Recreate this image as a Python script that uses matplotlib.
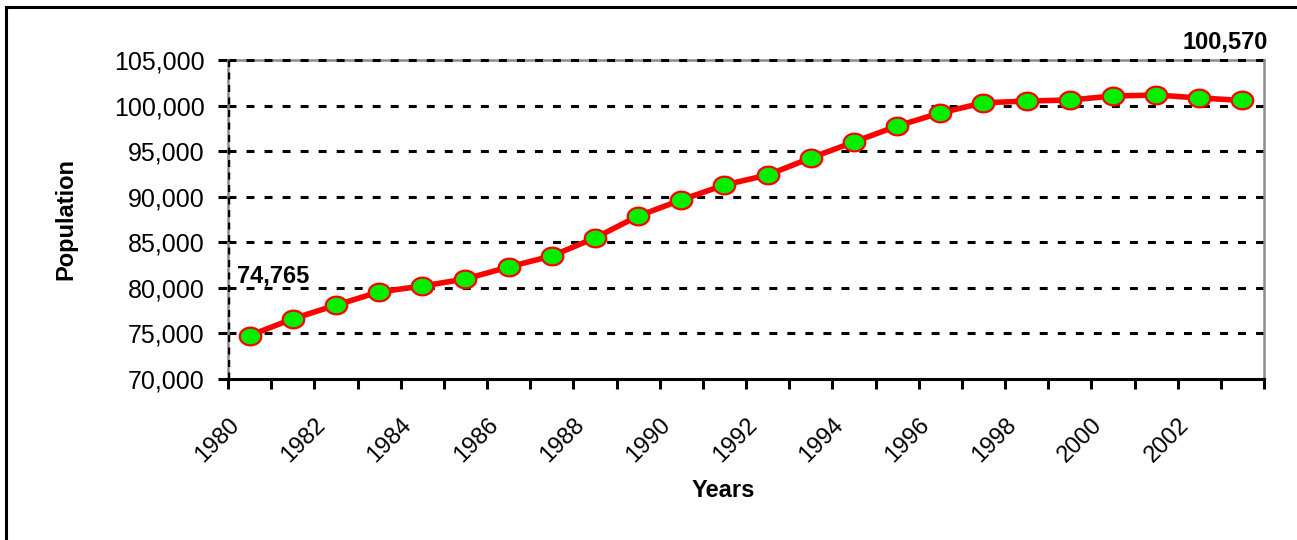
import numpy as np
import matplotlib
matplotlib.use("Agg")
import matplotlib.pyplot as plt
from matplotlib.path import Path
from matplotlib.patches import Rectangle

years = list(range(1980, 2004))
population = [74765, 76600, 78100, 79550, 80200, 80970, 82290, 83500, 85470,
              87880, 89640, 91290, 92380, 94250, 96000, 97760, 99190, 100300,
              100500, 100610, 101050, 101160, 100830, 100570]
y_ticks = [70000, 75000, 80000, 85000, 90000, 95000, 100000, 105000]
first_label = "74,765"
last_label = "100,570"

plt.rcParams['font.family'] = ['Liberation Sans', 'DejaVu Sans']

W, H = 1297, 540
fig = plt.figure(figsize=(W / 100, H / 100), dpi=100)
ax = fig.add_axes([228 / W, 1 - 379 / H, (1264 - 228) / W, (379 - 60) / H])

# frame round the whole chart (only left and top edges visible)
fig.patches.append(Rectangle((6 / W, -0.1), 1.2, 1 - 7 / H + 0.1,
                             transform=fig.transFigure, fill=False,
                             edgecolor='black', linewidth=2.2, zorder=0))

# ellipse marker like the Excel one
t = np.linspace(0, 2 * np.pi, 60)
ellipse = Path(np.column_stack([np.cos(t), 0.82 * np.sin(t)]), closed=True)

x = np.arange(len(years))
ax.plot(x, population, color='#ff0000', linewidth=4.0, marker=ellipse,
        markersize=15.5, markerfacecolor='#00ee00', markeredgecolor='#ff0000',
        markeredgewidth=1.6, zorder=4, clip_on=False)

ax.set_xlim(-0.5, len(years) - 0.5)
ax.set_ylim(70000, 105000)

# gridlines
for v in y_ticks[1:]:
    ax.axhline(v, color='black', linewidth=2.2, linestyle=(0, (2.6, 3.3)),
               zorder=2, clip_on=False)
ax.axvline(-0.5, color='black', linewidth=2.5, linestyle=(0, (2.0, 1.6)), zorder=3)

for side in ['left', 'top', 'right']:
    ax.spines[side].set_color('#8c8c8c')
    ax.spines[side].set_linewidth(1.8)
ax.spines['top'].set_zorder(1)
ax.spines['bottom'].set_color('black')
ax.spines['bottom'].set_linewidth(2.2)
ax.spines['bottom'].set_zorder(5)

ax.set_yticks(y_ticks)
ax.set_yticklabels([f"{v:,}" for v in y_ticks], fontsize=18)
ax.tick_params(axis='y', length=7, width=2.2, pad=10, color='black')

xt = np.arange(-0.5, len(years), 1.0)
ax.set_xticks(xt)
ax.set_xticklabels([str(years[i]) if i % 2 == 0 and i < len(years) else ''
                    for i in range(len(xt))],
                   fontsize=17, rotation=45, ha='right', va='top',
                   rotation_mode='anchor')
ax.tick_params(axis='x', length=7, width=2.2, pad=18, direction='out', color='black')

ax.set_ylabel('Population', fontsize=17, fontweight='bold', labelpad=26)
ax.set_xlabel('Years', fontsize=17, fontweight='bold', labelpad=8)
ax.xaxis.set_label_coords((723 - 228) / (1264 - 228), -0.312)

ax.text(-0.28, 80600, first_label, fontsize=17, fontweight='bold',
        ha='left', va='baseline', zorder=6)
ax.text(len(years) - 0.4, 106300, last_label, fontsize=17, fontweight='bold',
        ha='right', va='baseline', clip_on=False)

fig.savefig('out.png', dpi=100, facecolor='white')
